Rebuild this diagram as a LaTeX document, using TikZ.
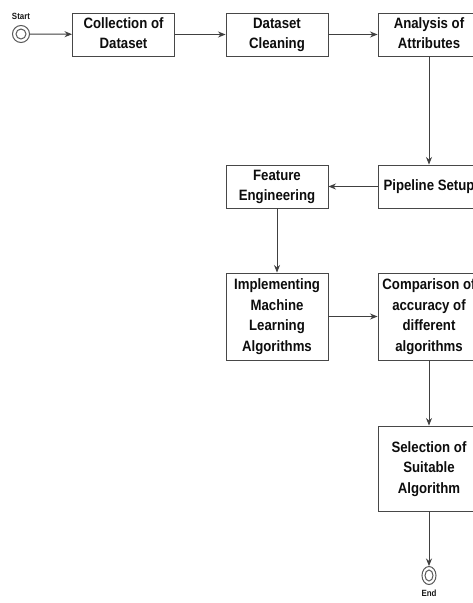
\documentclass[tikz,border=0pt]{standalone}
\usepackage{fontspec}
\setmainfont[FakeStretch=0.88]{Liberation Sans}
\usetikzlibrary{arrows.meta,shapes.geometric}
\tikzset{
  stepbox/.style={draw=black!72, line width=0.95pt, fill=white, minimum width=102pt,
    minimum height=43pt, inner sep=0pt, align=center, text=black!95,
    font=\bfseries\fontsize{15}{20.5}\selectfont},
  flow/.style={draw=black!75, line width=0.95pt, -{Stealth[length=7.5pt,width=6pt]}},
  ring/.style={draw=black!65, line width=1pt},
  tag/.style={font=\bfseries\fontsize{9}{10}\selectfont, text=black!90, inner sep=0pt}
}
\begin{document}
\begin{tikzpicture}[x=1pt,y=-1pt]
  \useasboundingbox (0,0) rectangle (473,603);
  \clip (0,0) rectangle (473,603);
  \fill[white] (0,0) rectangle (473,603);

  % start and end markers
  \node[ring, circle, minimum size=17pt, inner sep=0pt] (start) at (21,34) {};
  \draw[ring] (start.center) circle[radius=5pt];
  \node[tag] (startlbl) at (21,16) {Start};

  \node[ring, ellipse, minimum width=14pt, minimum height=18pt, inner sep=0pt] (end) at (429,575.5) {};
  \draw[ring] (end.center) ellipse[x radius=4pt, y radius=5.5pt];
  \node[tag] (endlbl) at (429,593.5) {End};

  % process steps (a strut on every line keeps the line boxes equal)
  \node[stepbox] (collect) at (123.5,34.5) {\strut Collection of\\\strut Dataset};
  \node[stepbox] (clean)   at (277,34.5)   {\strut Dataset\\\strut Cleaning};
  \node[stepbox] (analyse) at (429,34.5)   {\strut Analysis of\\\strut Attributes};
  \node[stepbox] (pipe)    at (429,186.5)  {\strut Pipeline Setup};
  \node[stepbox] (feature) at (277,186.5)  {\strut Feature\\\strut Engineering};
  \node[stepbox, minimum height=87pt] (impl) at (277,316.5)
    {\strut Implementing\\\strut Machine\\\strut Learning\\\strut Algorithms};
  \node[stepbox, minimum height=87pt] (compare) at (429,316.5)
    {\strut Comparison of\\\strut accuracy of\\\strut different\\\strut algorithms};
  \node[stepbox, minimum height=85pt] (select) at (429,468.5)
    {\strut Selection of\\\strut Suitable\\\strut Algorithm};

  % connectors
  \draw[flow] (start) -- (collect);
  \draw[flow] (collect) -- (clean);
  \draw[flow] (clean) -- (analyse);
  \draw[flow] (analyse) -- (pipe);
  \draw[flow] (pipe) -- (feature);
  \draw[flow] (feature) -- (impl);
  \draw[flow] (impl) -- (compare);
  \draw[flow] (compare) -- (select);
  \draw[flow] (select) -- (end);
\end{tikzpicture}
\end{document}
